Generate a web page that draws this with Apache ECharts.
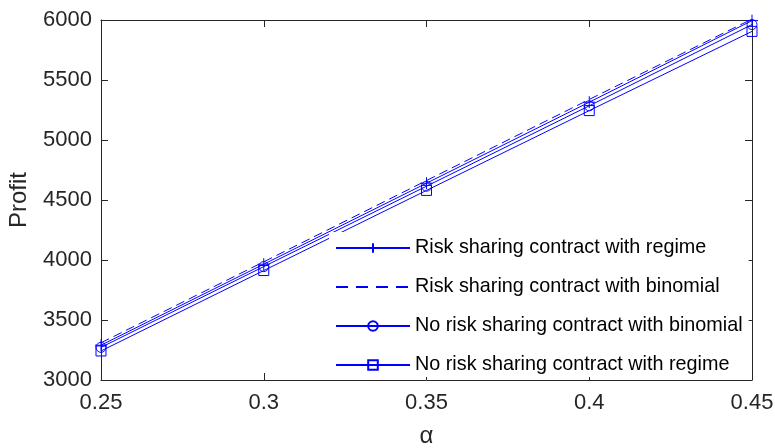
<!DOCTYPE html>
<html>
<head>
<meta charset="utf-8">
<script src="https://cdn.jsdelivr.net/npm/echarts@6/dist/echarts.min.js"></script>
<style>html,body{margin:0;padding:0;background:#fff}#c{width:775px;height:448px}</style>
</head>
<body>
<div id="c"></div>
<script>
var alphaValues = [0.25, 0.3, 0.35, 0.4, 0.45];
var seriesNames = ['Risk sharing contract with regime', 'Risk sharing contract with binomial', 'No risk sharing contract with binomial', 'No risk sharing contract with regime'];
var riskRegime = [3290, 3965, 4640, 5315, 5995];
var riskBinomial = [3310, 3985, 4662, 5338, 6008];
var noRiskBinomial = [3272, 3945, 4615, 5285, 5962];
var noRiskRegime = [3242, 3912, 4580, 5245, 5905];
var yTicks = [3000, 3500, 4000, 4500, 5000, 5500, 6000];

function pairs(vals) { return alphaValues.map(function (a, i) { return [a, vals[i]]; }); }

var blue = '#0000FF';
var axisColor = '#262626';
var font = '"Liberation Sans", Arial, Helvetica, sans-serif';
var plusPath = 'path://M5,0L5,10M0,5L10,5';

function lineSeries(name, vals, symbol, size, dashed) {
  return {
    name: name, type: 'line', data: pairs(vals),
    symbol: symbol, symbolSize: size, showSymbol: symbol !== 'none',
    lineStyle: { color: blue, width: 1, type: dashed ? [9, 5] : 'solid' },
    itemStyle: { color: 'rgba(0,0,0,0)', borderColor: blue, borderWidth: 1 },
    emphasis: { disabled: true }, animation: false, z: 2
  };
}

var legendData = seriesNames.map(function (n, i) {
  return i === 1 ? {
    name: n,
    itemStyle: { color: 'rgba(0,0,0,0)', borderColor: 'rgba(0,0,0,0)', borderWidth: 0 },
    lineStyle: { type: [12, 8] }
  } : { name: n };
});

var chart = echarts.init(document.getElementById('c'));
chart.setOption({
  animation: false,
  grid: { left: 101, right: 23, top: 20, bottom: 68, outerBoundsMode: 'none', containLabel: false },
  xAxis: [{
    type: 'value', min: 0.25, max: 0.45, interval: 0.05,
    name: 'α', nameLocation: 'middle', nameGap: 44,
    nameTextStyle: { fontFamily: font, fontSize: 24, color: axisColor },
    axisLine: { show: true, lineStyle: { color: axisColor, width: 1 } },
    axisTick: { show: true, inside: true, length: 7, lineStyle: { color: axisColor } },
    axisLabel: { fontFamily: font, fontSize: 22, color: axisColor, margin: 12,
      formatter: function (v) { return String(Math.round(v * 100) / 100); } },
    splitLine: { show: false }
  }, {
    type: 'value', min: 0.25, max: 0.45, interval: 0.05, position: 'top',
    axisLine: { show: true, lineStyle: { color: axisColor, width: 1 } },
    axisTick: { show: true, inside: true, length: 7, lineStyle: { color: axisColor } },
    axisLabel: { show: false }, splitLine: { show: false }
  }],
  yAxis: [{
    type: 'value', min: 3000, max: 6000, interval: 500,
    name: 'Profit', nameLocation: 'middle', nameGap: 70,
    nameTextStyle: { fontFamily: font, fontSize: 24, color: axisColor },
    axisLine: { show: true, lineStyle: { color: axisColor, width: 1 } },
    axisTick: { show: true, inside: true, length: 7, lineStyle: { color: axisColor } },
    axisLabel: { fontFamily: font, fontSize: 22, color: axisColor, margin: 9,
      formatter: function (v) { return String(v); } },
    splitLine: { show: false }
  }, {
    type: 'value', min: 3000, max: 6000, interval: 500, position: 'right',
    axisLine: { show: true, lineStyle: { color: axisColor, width: 1 } },
    axisTick: { show: true, inside: true, length: 7, lineStyle: { color: axisColor } },
    axisLabel: { show: false }, splitLine: { show: false }
  }],
  legend: {
    orient: 'vertical', left: 329, top: 232,
    backgroundColor: '#ffffff', padding: [6, 6, 2, 6],
    itemWidth: 74, itemHeight: 12, itemGap: 19,
    textStyle: { fontFamily: font, fontSize: 19.8, color: '#000' },
    data: legendData, selectedMode: false, z: 10
  },
  series: [
    lineSeries(seriesNames[0], riskRegime, plusPath, 12, false),
    lineSeries(seriesNames[1], riskBinomial, 'none', 0, true),
    lineSeries(seriesNames[2], noRiskBinomial, 'circle', 10, false),
    lineSeries(seriesNames[3], noRiskRegime, 'rect', 10, false)
  ]
});
</script>
</body>
</html>
